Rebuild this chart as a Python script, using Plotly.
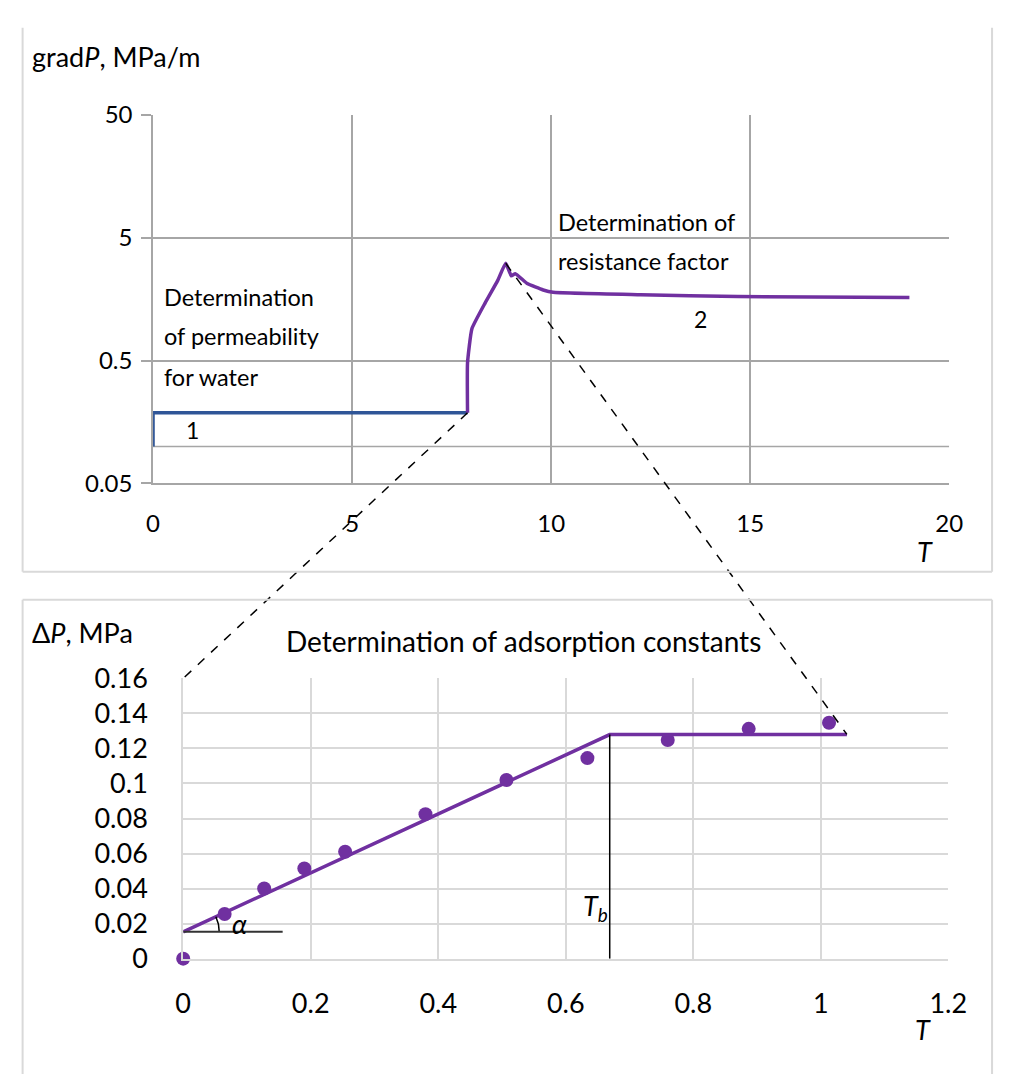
import numpy as np
import plotly.graph_objects as go

# ---------------- data ----------------
# top chart: stage 1 (permeability for water)
stage1_T = [0.0, 0.0, 7.9]
stage1_grad = [0.1, 0.188, 0.188]
# top chart: stage 2 (resistance factor)
stage2_T = [7.9, 7.9, 8.01, 8.34, 8.66, 8.86, 9.0, 9.1, 9.4, 9.8, 10.05, 12.25, 14.69, 19.0]
stage2_grad = [0.188, 0.48, 0.91, 1.47, 2.25, 3.1, 2.45, 2.55, 2.12, 1.88, 1.80, 1.72, 1.66, 1.63]

# bottom chart: measured points
pts_T = [0.0, 0.065, 0.127, 0.19, 0.254, 0.38, 0.507, 0.634, 0.76, 0.887, 1.013]
pts_dP = [0.0, 0.0255, 0.040, 0.0515, 0.061, 0.0825, 0.102, 0.1145, 0.1248, 0.1312, 0.1347]
# bottom chart: fitted broken line
fit_T = [0.0, 0.669, 1.041]
fit_dP = [0.0153, 0.1279, 0.128]
Tb = 0.669
alpha_len = 0.156

top_xticks = [0, 5, 10, 15, 20]
top_yticks = [0.05, 0.5, 5, 50]
top_ylabels = ["0.05", "0.5", "5", "50"]
top_extra_grid = 0.1
bot_xticks = [0, 0.2, 0.4, 0.6, 0.8, 1, 1.2]
bot_xlabels = ["0", "0.2", "0.4", "0.6", "0.8", "1", "1.2"]
bot_yticks = [0, 0.02, 0.04, 0.06, 0.08, 0.1, 0.12, 0.14, 0.16]
bot_ylabels = ["0", "0.02", "0.04", "0.06", "0.08", "0.1", "0.12", "0.14", "0.16"]

# ---------------- layout geometry ----------------
W, H = 1013, 1090


def pxx(px):
    return px / W


def pxy(py):
    return 1 - py / H


FONT = "Lato"
PURPLE = "#7030A0"
BLUE = "#2F5597"
GRID_TOP = "#a6a6a6"
GRID_BOT = "#d9d9d9"

X1_DOM = [pxx(149), pxx(967)]
Y1_DOM = [pxy(480), pxy(100)]
X2_DOM = [pxx(180), pxx(966)]
Y2_DOM = [pxy(970), pxy(681)]
X1_RANGE = [0, 20]
Y1_RANGE = [np.log10(0.05), np.log10(50)]
X2_RANGE = [0, 1.2]
Y2_RANGE = [0, 0.16]


def top_to_paper(t, v):
    px = X1_DOM[0] + (t - X1_RANGE[0]) / (X1_RANGE[1] - X1_RANGE[0]) * (X1_DOM[1] - X1_DOM[0])
    py = Y1_DOM[0] + (np.log10(v) - Y1_RANGE[0]) / (Y1_RANGE[1] - Y1_RANGE[0]) * (Y1_DOM[1] - Y1_DOM[0])
    return px, py


def bot_to_paper(t, v):
    px = X2_DOM[0] + (t - X2_RANGE[0]) / (X2_RANGE[1] - X2_RANGE[0]) * (X2_DOM[1] - X2_DOM[0])
    py = Y2_DOM[0] + (v - Y2_RANGE[0]) / (Y2_RANGE[1] - Y2_RANGE[0]) * (Y2_DOM[1] - Y2_DOM[0])
    return px, py


fig = go.Figure()

# top traces
fig.add_trace(go.Scatter(x=stage1_T, y=stage1_grad, mode="lines",
                         line=dict(color=BLUE, width=3.5), xaxis="x", yaxis="y",
                         showlegend=False, hoverinfo="skip"))
fig.add_trace(go.Scatter(x=stage2_T, y=stage2_grad, mode="lines",
                         line=dict(color=PURPLE, width=3.5, shape="spline", smoothing=0.4),
                         xaxis="x", yaxis="y", showlegend=False, hoverinfo="skip"))

# bottom traces
fig.add_trace(go.Scatter(x=fit_T, y=fit_dP, mode="lines",
                         line=dict(color=PURPLE, width=3.5), xaxis="x2", yaxis="y2",
                         showlegend=False, hoverinfo="skip", cliponaxis=False))
fig.add_trace(go.Scatter(x=pts_T, y=pts_dP, mode="markers",
                         marker=dict(color=PURPLE, size=14), xaxis="x2", yaxis="y2",
                         showlegend=False, hoverinfo="skip", cliponaxis=False))

# alpha arc (decoration) around the start of the fit line
px_per_T = (X2_DOM[1] - X2_DOM[0]) * W / (X2_RANGE[1] - X2_RANGE[0])
px_per_P = (Y2_DOM[1] - Y2_DOM[0]) * H / (Y2_RANGE[1] - Y2_RANGE[0])
slope_ang = np.arctan((fit_dP[1] - fit_dP[0]) / (fit_T[1] - fit_T[0]) * px_per_P / px_per_T)
ang = np.linspace(0, slope_ang, 12)
r = 37
fig.add_trace(go.Scatter(x=fit_T[0] + r * np.cos(ang) / px_per_T,
                         y=fit_dP[0] + r * np.sin(ang) / px_per_P,
                         mode="lines", line=dict(color="black", width=1.5),
                         xaxis="x2", yaxis="y2", showlegend=False, hoverinfo="skip"))

shapes = []
# extra horizontal gridline in top chart
shapes.append(dict(type="line", xref="x", yref="y", x0=X1_RANGE[0], x1=X1_RANGE[1],
                   y0=top_extra_grid, y1=top_extra_grid, line=dict(color=GRID_TOP, width=1.5),
                   layer="below"))
# Tb vertical line
shapes.append(dict(type="line", xref="x2", yref="y2", x0=Tb, x1=Tb, y0=0, y1=fit_dP[1],
                   line=dict(color="black", width=1.5)))
# alpha horizontal line
shapes.append(dict(type="line", xref="x2", yref="y2", x0=0, x1=alpha_len, y0=fit_dP[0], y1=fit_dP[0],
                   line=dict(color="#333333", width=2)))
# dashed connecting lines
a0 = top_to_paper(stage1_T[-1], stage1_grad[-1])
a1 = bot_to_paper(0, Y2_RANGE[1])
shapes.append(dict(type="line", xref="paper", yref="paper", x0=a0[0], y0=a0[1], x1=a1[0], y1=a1[1],
                   line=dict(color="black", width=1.5, dash="dash")))
pk = int(np.argmax(stage2_grad))
b0 = top_to_paper(stage2_T[pk], stage2_grad[pk])
b1 = bot_to_paper(fit_T[-1], fit_dP[-1])
shapes.append(dict(type="line", xref="paper", yref="paper", x0=b0[0], y0=b0[1], x1=b1[0], y1=b1[1],
                   line=dict(color="black", width=1.5, dash="dash")))
# panel borders
BORDER = dict(color="#d9d9d9", width=2)
R_EDGE = pxx(1011)
B_EDGE = 0.001
for (x0, y0, x1, y1) in [
    (pxx(15), pxy(10), pxx(15), pxy(571)),
    (pxx(15), pxy(571), R_EDGE, pxy(571)),
    (R_EDGE, pxy(10), R_EDGE, pxy(571)),
    (pxx(15), pxy(600), pxx(15), B_EDGE),
    (pxx(15), pxy(600), R_EDGE, pxy(600)),
    (R_EDGE, pxy(600), R_EDGE, B_EDGE),
]:
    shapes.append(dict(type="line", xref="paper", yref="paper", x0=x0, y0=y0, x1=x1, y1=y1, line=BORDER))

TXT = dict(family=FONT, color="black")


def ann(text, x, y, size, xref="paper", yref="paper", xanchor="left", yanchor="middle"):
    return dict(text=text, x=x, y=y, xref=xref, yref=yref, xanchor=xanchor, yanchor=yanchor,
                showarrow=False, font=dict(size=size, **TXT))


annotations = [
    ann("grad<i>P</i>, MPa/m", pxx(23), pxy(40), 27),
    ann("<i>T</i>", pxx(942), pxy(550), 27, xanchor="center"),
    ann("Δ<i>P</i>, MPa", pxx(23), pxy(634), 27),
    ann("Determination of adsorption constants", pxx(530), pxy(642), 28, xanchor="center"),
    ann("<i>T</i>", pxx(940), pxy(1043), 27, xanchor="center"),
    # top chart labels (log axis: y in log10 units)
    ann("Determination", 0.22, np.log10(1.65), 23.5, "x", "y"),
    ann("of permeability", 0.22, np.log10(0.787), 23.5, "x", "y"),
    ann("for water", 0.22, np.log10(0.367), 23.5, "x", "y"),
    ann("Determination of", 10.12, np.log10(6.68), 23.5, "x", "y"),
    ann("resistance factor", 10.12, np.log10(3.24), 23.5, "x", "y"),
    ann("1", 1.0, np.log10(0.136), 23, "x", "y", xanchor="center"),
    ann("2", 13.74, np.log10(1.09), 23, "x", "y", xanchor="center"),
    # bottom chart labels
    ann("<i>T<sub>b</sub></i>", 0.647, 0.0293, 27, "x2", "y2", xanchor="center"),
    ann("<i>α</i>", 0.0886, 0.0199, 27, "x2", "y2", xanchor="center"),
]

fig.update_layout(
    width=W, height=H, autosize=False,
    margin=dict(l=0, r=0, t=0, b=0),
    paper_bgcolor="white", plot_bgcolor="white",
    font=dict(family=FONT, color="black"),
    showlegend=False,
    xaxis=dict(domain=X1_DOM, range=X1_RANGE, tickvals=top_xticks,
               showgrid=True, gridcolor=GRID_TOP, gridwidth=1.5,
               showline=True, linecolor=GRID_TOP, linewidth=1.5,
               ticks="", tickfont=dict(size=24, family=FONT), ticklabelstandoff=18,
               zeroline=False, anchor="y"),
    yaxis=dict(domain=Y1_DOM, type="log", range=Y1_RANGE, tickvals=top_yticks,
               ticktext=top_ylabels,
               showgrid=True, gridcolor=GRID_TOP, gridwidth=1.5,
               showline=True, linecolor=GRID_TOP, linewidth=1.5,
               ticks="outside", ticklen=10, tickcolor=GRID_TOP, tickwidth=1.5,
               tickfont=dict(size=24, family=FONT), ticklabelstandoff=4,
               zeroline=False, anchor="x"),
    xaxis2=dict(domain=X2_DOM, range=X2_RANGE, tickvals=bot_xticks, ticktext=bot_xlabels,
                showgrid=True, gridcolor=GRID_BOT, gridwidth=2,
                showline=True, linecolor=GRID_BOT, linewidth=2,
                ticks="", tickfont=dict(size=27, family=FONT), ticklabelstandoff=20,
                zeroline=False, anchor="y2"),
    yaxis2=dict(domain=Y2_DOM, range=Y2_RANGE, tickvals=bot_yticks, ticktext=bot_ylabels,
                showgrid=True, gridcolor=GRID_BOT, gridwidth=2,
                showline=True, linecolor=GRID_BOT, linewidth=2,
                ticks="", tickfont=dict(size=27, family=FONT), ticklabelstandoff=28,
                zeroline=False, anchor="x2"),
    shapes=shapes,
    annotations=annotations,
)

fig.write_html("out.html")
